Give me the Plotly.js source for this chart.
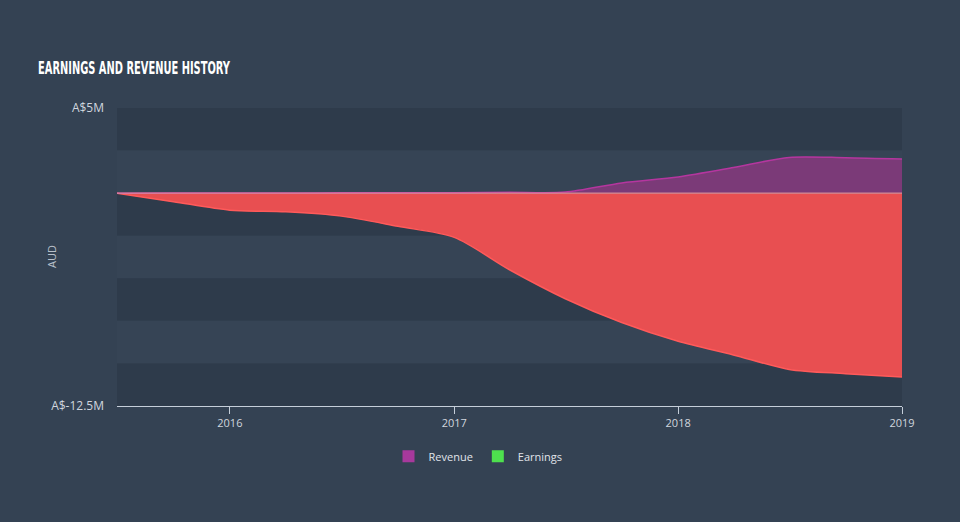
<!DOCTYPE html>
<html>
<head>
<meta charset="utf-8">
<script src="https://cdn.plot.ly/plotly-3.0.1.min.js"></script>
<style>
html,body{margin:0;padding:0;background:#344253;}
#chart{width:960px;height:522px;}
</style>
</head>
<body>
<div id="chart"></div>
<script>
// Data (A$ millions)
var dates = ['2015-07-01','2015-10-01','2016-01-01','2016-04-01','2016-07-01','2016-10-01','2017-01-01','2017-04-01','2017-07-01','2017-10-01','2018-01-01','2018-04-01','2018-07-01','2018-10-01','2019-01-01'];
var revenue = [0, 0.01, 0.01, 0.01, 0.02, 0.03, 0.03, 0.05, 0.06, 0.6, 0.95, 1.5, 2.1, 2.08, 2.0];
var earnings = [0, -0.5, -1.0, -1.1, -1.35, -1.95, -2.6, -4.5, -6.2, -7.6, -8.7, -9.5, -10.35, -10.6, -10.8];
var yTickVals = [5, -12.5];
var yTickText = ['A$5M', 'A$-12.5M'];
var xTickVals = ['2016-01-01','2017-01-01','2018-01-01','2019-01-01'];
var xTickText = ['2016','2017','2018','2019'];
var bandEdges = [5, 2.5, 0, -2.5, -5, -7.5, -10, -12.5];

var shapes = [];
for (var i = 0; i < bandEdges.length - 1; i++) {
  shapes.push({type:'rect', xref:'paper', yref:'y', x0:0, x1:1, y0:bandEdges[i+1], y1:bandEdges[i],
    fillcolor: (i % 2 === 0) ? '#2e3b4b' : '#364455', line:{width:0}, layer:'below'});
}
shapes.push({type:'line', xref:'paper', yref:'y', x0:0, x1:1, y0:0, y1:0, line:{color:'#f0a0a0', width:1}, layer:'above'});
shapes.push({type:'line', xref:'container', yref:'container', x0:38/960, x1:920/960, y0:1-82/522, y1:1-82/522, line:{color:'#a9b0ba', width:2}});

var traces = [
  {x:dates, y:earnings, type:'scatter', mode:'lines', fill:'tozeroy', fillcolor:'#e84f51',
   line:{color:'#ff5a5a', width:1.5, shape:'spline', smoothing:0.8}, showlegend:false, hoverinfo:'skip'},
  {x:dates, y:revenue, type:'scatter', mode:'lines', fill:'tozeroy', fillcolor:'#7b3a78',
   line:{color:'#b5369f', width:1.5, shape:'spline', smoothing:0.8}, showlegend:false, hoverinfo:'skip'},
  {x:[null], y:[null], type:'bar', name:'Revenue', marker:{color:'#a7399c'}},
  {x:[null], y:[null], type:'bar', name:'Earnings', marker:{color:'#4ee04e'}}
];

var layout = {
  width:960, height:522,
  paper_bgcolor:'#344253', plot_bgcolor:'rgba(0,0,0,0)',
  margin:{l:117, r:58, t:108, b:116, autoexpand:false},
  title:{text:'EARNINGS AND REVENUE HISTORY', xref:'container', yref:'container', x:38/960, xanchor:'left', y:1-68/522, yanchor:'middle',
    font:{family:'"DejaVu Sans Condensed","DejaVu Sans",sans-serif', size:17, weight:700, color:'#ffffff'}},
  xaxis:{type:'date', range:['2015-07-01','2019-01-01'], tickvals:xTickVals, ticktext:xTickText,
    showgrid:false, zeroline:false, showline:true, linecolor:'#c5ced9', linewidth:1,
    ticks:'outside', ticklen:7, tickcolor:'#c5ced9', tickfont:{family:'"Open Sans",sans-serif', size:11, color:'#d0d6de'}},
  yaxis:{range:[-12.5,5], tickvals:yTickVals, ticktext:yTickText, showgrid:false, zeroline:false, showline:false,
    ticks:'', ticklen:0, ticklabelstandoff:12, tickfont:{family:'"Open Sans",sans-serif', size:12, color:'#d0d6de'}},
  annotations:[{text:'AUD', xref:'paper', yref:'paper', x:(51-117)/785, y:0.5, xanchor:'center', yanchor:'middle',
    textangle:-90, showarrow:false, font:{family:'"Open Sans",sans-serif', size:11, color:'#b8c0ca'}}],
  showlegend:true,
  legend:{orientation:'h', x:(478-117)/785, xanchor:'center', y:-0.12, yanchor:'top', bgcolor:'rgba(0,0,0,0)',
    font:{family:'"Open Sans",sans-serif', size:11, color:'#e0e4ea'}},
  shapes:shapes,
  barmode:'overlay'
};

Plotly.newPlot('chart', traces, layout, {displayModeBar:false, staticPlot:true}).then(function(){
  var t = document.querySelector('.gtitle');
  if (t) { t.setAttribute('textLength', '192'); t.setAttribute('lengthAdjust', 'spacingAndGlyphs'); }
});
</script>
</body>
</html>
